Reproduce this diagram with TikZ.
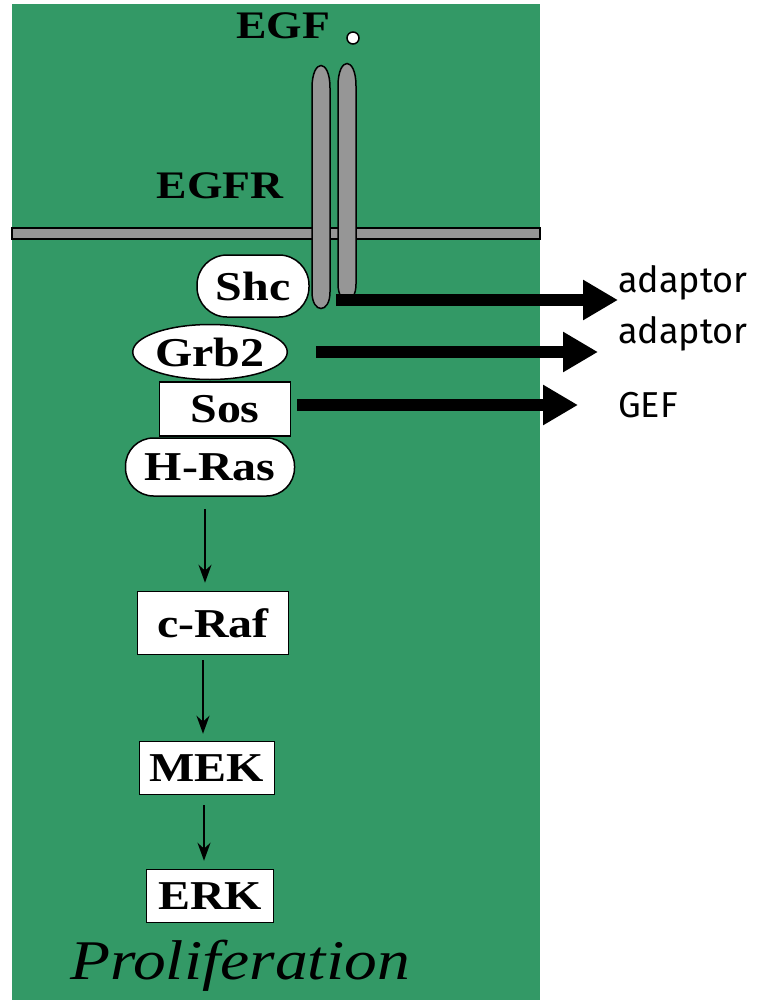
\documentclass[tikz,border=0pt]{standalone}
\usepackage{fontspec}
\setmainfont{Liberation Serif}
\newfontfamily\labfont{Fira Sans}
\usetikzlibrary{arrows.meta,shapes.geometric}
\definecolor{cellgreen}{RGB}{51,153,102}
\definecolor{recgray}{RGB}{150,150,150}
\newcommand{\wide}[1]{\scalebox{1.17}[1]{#1}}
\tikzset{
  prot/.style={draw=black, line width=1.5pt, fill=white, inner sep=0pt,
    font=\bfseries\fontsize{41}{41}\selectfont},
  title/.style={font=\bfseries\fontsize{39}{39}\selectfont, inner sep=0pt},
  side/.style={font=\labfont\fontsize{36}{36}\selectfont, anchor=west, inner sep=0pt},
  bigarrow/.style={line width=12pt, -{Triangle[length=35pt,width=38pt]}},
  thinarrow/.style={line width=1.4pt, -{Stealth[length=18pt,width=13pt]}},
  capsule/.style={draw=black, line width=1.5pt, fill=recgray}
}
\begin{document}
\begin{tikzpicture}[x=1pt,y=-1pt]
\useasboundingbox (0,0) rectangle (759,1000);
% cell
\fill[cellgreen] (12,4) rectangle (540,1000);
% membrane
\draw[capsule, line width=1.2pt] (12,228) rectangle (540,239);
% labels top
\node[title] (egf) at (283,26) {\wide{EGF}};
\node[draw=black, fill=white, circle, line width=1.5pt, minimum size=12pt, inner sep=0pt] (ligand) at (353,38) {};
\node[title] (egfr) at (220,186) {\wide{EGFR}};
% Shc
\node[prot, rounded corners=30pt, minimum width=112pt, minimum height=62pt] (shc) at (253,286) {\wide{Shc}};
% receptor chains
\draw[capsule] (312,292) -- (312,88) .. controls (312,58) and (330,58) .. (330,88) -- (330,292) .. controls (330,314) and (312,314) .. cycle;
\draw[capsule] (338,284) -- (338,86) .. controls (338,56) and (356,56) .. (356,86) -- (356,284) .. controls (356,306) and (338,306) .. cycle;
% other proteins
\node[prot, ellipse, minimum width=141pt, minimum height=55pt] (grb2) at (210,352) {\wide{Grb2}};
\node[prot, minimum width=131pt, minimum height=54pt] (sos) at (225,409) {\wide{Sos}};
\node[prot, rounded corners=28pt, minimum width=169pt, minimum height=58pt] (hras) at (210,467) {\wide{H-Ras}};
\node[prot, minimum width=151pt, minimum height=63pt] (craf) at (213,623) {\wide{c-Raf}};
\node[prot, minimum width=135pt, minimum height=53pt] (mek) at (207,768) {\wide{MEK}};
\node[prot, minimum width=127pt, minimum height=53pt] (erk) at (210,896) {\wide{ERK}};
% cascade arrows
\draw[thinarrow, shorten <=12pt, shorten >=8pt] ([xshift=-5pt]hras.south) -- ([xshift=-5pt]hras.south |- craf.north);
\draw[thinarrow, shorten <=5pt, shorten >=7pt] ([xshift=-10pt]craf.south) -- ([xshift=-10pt]craf.south |- mek.north);
\draw[thinarrow, shorten <=10pt, shorten >=8pt] ([xshift=-3pt]mek.south) -- ([xshift=-3pt]mek.south |- erk.north);
% side labels
\node[side] (lab1) at (618,283) {adaptor};
\node[side] (lab2) at (618,334) {adaptor};
\node[side] (lab3) at (618,405) {GEF};
% function arrows
\coordinate (s1) at (336,300);
\coordinate (t1) at (618,300);
\coordinate (s2) at (316,352);
\coordinate (t2) at (598,352);
\coordinate (s3) at (297,405);
\coordinate (t3) at (578,405);
\draw[bigarrow] (s1) -- (t1);
\draw[bigarrow] (s2) -- (t2);
\draw[bigarrow] (s3) -- (t3);
% outcome
\node[font=\itshape\fontsize{56}{56}\selectfont, inner sep=0pt] (prolif) at (240,966) {\wide{Proliferation}};
\end{tikzpicture}
\end{document}
